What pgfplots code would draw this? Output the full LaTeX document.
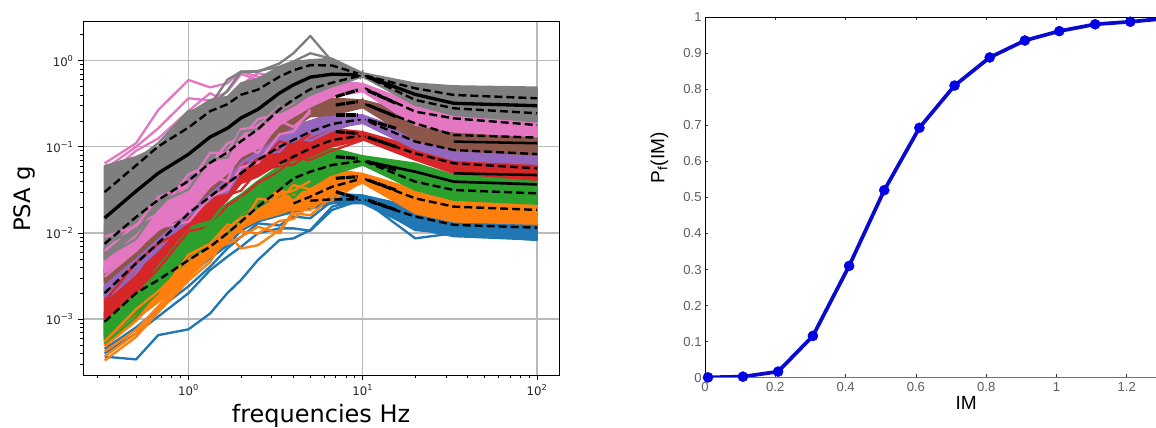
\documentclass[border=0pt]{standalone}
\usepackage{pgfplots}
\pgfplotsset{compat=1.18}
\usepackage{fontspec}
\setmainfont{DejaVu Sans}
\newfontfamily\arialf{Liberation Sans}
\definecolor{cb}{HTML}{1F77B4}
\definecolor{co}{HTML}{FF7F0E}
\definecolor{cg}{HTML}{2CA02C}
\definecolor{cr}{HTML}{D62728}
\definecolor{cu}{HTML}{9467BD}
\definecolor{cn}{HTML}{8C564B}
\definecolor{cp}{HTML}{E377C2}
\definecolor{ca}{HTML}{7F7F7F}
\definecolor{mblue}{HTML}{0A0ACF}
\definecolor{mtick}{HTML}{404040}
\pgfplotsset{
  band/.style={fill=#1,draw=#1,line width=1.3pt,line join=round,forget plot,mark=none},
  ln/.style={#1,line width=1.75pt,line join=round,forget plot,mark=none},
  med/.style={black,line width=2.5pt,forget plot,mark=none},
  dsh/.style={black,line width=1.8pt,dash pattern=on 6pt off 3pt,forget plot,mark=none},
  thk/.style={black,line width=2.4pt,dash pattern=on 7pt off 0.8pt,forget plot,mark=none},
  st/.style={#1,mark=star,mark size=3.8pt,only marks,mark options={line width=1.3pt,#1},forget plot},
}
\begin{document}
\begin{tikzpicture}[x=1pt,y=1pt]
\useasboundingbox (0,0) rectangle (867,321);
\begin{axis}[
  at={(62.25pt,39.75pt)},anchor=south west,scale only axis,width=357pt,height=265.1pt,
  xmode=log,ymode=log,xmin=0.248,xmax=133.7,ymin=0.000224,ymax=2.85,
  xtick={0.1,1,10,100,1000},xticklabels={,10\textsuperscript{0},10\textsuperscript{1},10\textsuperscript{2},},
  ytick={0.0001,0.001,0.01,0.1,1,10},yticklabels={,10\textsuperscript{−3},10\textsuperscript{−2},10\textsuperscript{−1},10\textsuperscript{0},},
  tick align=outside,xtick pos=bottom,ytick pos=left,
  grid=major,major grid style={color=black!27,line width=0.95pt},
  major tick length=3.5pt,minor tick length=2pt,
  tick style={black,line width=0.5pt},
  axis line style={black,line width=0.7pt},
  ticklabel style={font=\fontsize{8.8}{10}\selectfont,text=black!85},
  xlabel={frequencies Hz},ylabel={PSA g},
  xlabel style={font=\fontsize{18}{20}\selectfont,at={(axis description cs:0.5,-0.133)},anchor=base},
  ylabel style={font=\fontsize{17}{19}\selectfont,at={(axis description cs:-0.124,0.498)},anchor=center},
]
% BLUE
\addplot[band=cb] coordinates {(.33,.00063)(.5,.001)(.67,.00158)(1,.00316)(1.33,.005)(1.67,.0071)(2,.0105)(2.5,.0135)(3.33,.0158)(4,.0174)(5,.019)(6.67,.0219)(10,.022)(20,.0112)(33.3,.0091)(100,.0083)
 (100,.0132)(33.3,.0166)(20,.02)(10,.0274)(6.67,.029)(5,.028)(4,.027)(3.33,.025)(2.5,.022)(2,.018)(1.67,.0135)(1.33,.009)(1,.005)(.67,.0025)(.5,.0016)(.33,.001)(.33,.00063)};
\addplot[ln=cb] coordinates {(.33,.000366)(.5,.00034)(.67,.00065)(1,.00076)(1.33,.00116)(1.67,.002)(2,.00284)(2.5,.00484)(3.33,.00828)(4,.00865)(5,.0108)(6.67,.0202)(10,.0245)(20,.00865)(33.3,.0099)(100,.00828)};
\addplot[ln=cb] coordinates {(.33,.0004)(.5,.00068)(.67,.00107)(1,.002)(1.33,.0037)(1.67,.0053)(2,.0069)(2.5,.0099)(3.33,.0113)(4,.0113)(5,.0106)(6.67,.0185)(10,.0245)(20,.0108)(33.3,.0099)(100,.009)};
\addplot[ln=cb] coordinates {(.33,.00045)(.5,.0008)(.67,.0013)(1,.0024)(1.33,.00405)(1.67,.0066)(2,.009)(2.5,.0129)(3.33,.0122)(4,.0155)(5,.0148)(6.67,.0235)(10,.0245)(20,.0125)(33.3,.0105)(100,.0095)};
% ORANGE
\addplot[band=co] coordinates {(.33,.0005)(.5,.001)(.67,.00158)(1,.003)(1.33,.0052)(1.67,.0079)(2,.0112)(2.5,.0141)(3.33,.0166)(4,.019)(5,.02)(6.67,.0282)(10,.038)(20,.0169)(33.3,.0135)(100,.0127)
 (100,.0245)(33.3,.026)(20,.032)(10,.0488)(6.67,.055)(5,.05)(4,.042)(3.33,.036)(2.5,.028)(2,.02)(1.67,.015)(1.33,.01)(1,.0065)(.67,.0028)(.5,.0016)(.33,.001)(.33,.0005)};
\addplot[ln=co] coordinates {(.33,.00037)(.5,.00068)(.67,.00127)(1,.0031)(1.33,.0058)(1.67,.0099)(2,.0066)(2.5,.0072)(3.33,.0108)(4,.0169)(5,.0161)(6.67,.0264)(10,.0431)(20,.018)(33.3,.0145)(100,.013)};
\addplot[ln=co] coordinates {(.33,.00042)(.5,.00075)(.67,.0014)(1,.0034)(1.33,.0062)(1.67,.0075)(2,.009)(2.5,.0118)(3.33,.0099)(4,.0185)(5,.0185)(6.67,.03)(10,.045)(20,.03)(33.3,.024)(100,.0225)};
\addplot[ln=co] coordinates {(.33,.00033)(.5,.00062)(.67,.0012)(1,.0028)(1.33,.0046)(1.67,.0092)(2,.0105)(2.5,.0098)(3.33,.0138)(4,.0145)(5,.0215)(6.67,.024)(10,.04)};
% GREEN
\addplot[band=cg] coordinates {(.33,.00057)(.5,.00116)(.67,.002)(1,.0053)(1.33,.0083)(1.67,.0118)(2,.0169)(2.5,.022)(3.33,.0344)(4,.0288)(5,.0344)(6.67,.0537)(10,.0616)(20,.0315)(33.3,.0241)(100,.0217)
 (100,.0431)(33.3,.047)(20,.0643)(10,.0783)(6.67,.0959)(5,.08)(4,.07)(3.33,.06)(2.5,.04)(2,.028)(1.67,.022)(1.33,.016)(1,.011)(.67,.0042)(.5,.0026)(.33,.0012)(.33,.00057)};
\addplot[ln=cg] coordinates {(.33,.00052)(.5,.00105)(.67,.0022)(1,.0046)(1.33,.0078)(1.67,.0098)(2,.0145)(2.5,.02)(3.33,.027)(4,.03)(5,.033)(6.67,.05)(10,.069)};
\addplot[ln=cg] coordinates {(.33,.00075)(.5,.00125)(.67,.0024)(1,.0062)(1.33,.0075)(1.67,.0135)(2,.0155)(2.5,.0205)(3.33,.038)(4,.0255)(5,.04)(6.67,.048)(10,.062)};
\addplot[ln=co] coordinates {(.33,.00055)(.5,.0013)(.67,.0021)(1,.0045)(1.33,.0068)(1.67,.011)(2,.015)(2.5,.017)(3.33,.028)(4,.031)(5,.04)};
\addplot[ln=co] coordinates {(.33,.00048)(.5,.00095)(.67,.0018)(1,.0056)(1.33,.0075)(1.67,.0125)(2,.0118)(2.5,.025)(3.33,.024)(4,.036)(5,.032)(6.67,.045)};
% RED
\addplot[band=cr] coordinates {(.33,.001)(.5,.002)(.67,.0044)(1,.0118)(1.33,.0155)(1.67,.0241)(2,.0377)(2.5,.045)(3.33,.0643)(4,.0703)(5,.0767)(6.67,.1005)(10,.121)(20,.0703)(33.3,.0492)(100,.0411)
 (100,.0767)(33.3,.0767)(20,.1005)(10,.149)(6.67,.164)(5,.135)(4,.115)(3.33,.1)(2.5,.08)(2,.06)(1.67,.05)(1.33,.035)(1,.02)(.67,.009)(.5,.005)(.33,.0024)(.33,.001)};
\addplot[ln=cr] coordinates {(.33,.0011)(.5,.0021)(.67,.0038)(1,.0105)(1.33,.0118)(1.67,.021)(2,.026)(2.5,.038)(3.33,.052)(4,.075)(5,.07)(6.67,.09)(10,.12)};
\addplot[ln=cr] coordinates {(.33,.0015)(.5,.0031)(.67,.0062)(1,.0125)(1.33,.0145)(1.67,.0275)(2,.031)(2.5,.0525)(3.33,.06)(4,.062)(5,.084)(6.67,.11)(10,.13)};
\addplot[ln=cg] coordinates {(.33,.0009)(.5,.0019)(.67,.0033)(1,.0085)(1.33,.012)(1.67,.0185)(2,.025)(2.5,.031)(3.33,.05)(4,.055)(5,.066)(6.67,.085)};
% PURPLE
\addplot[band=cu] coordinates {(.33,.0018)(.5,.0037)(.67,.0063)(1,.0155)(1.33,.0241)(1.67,.0344)(2,.0643)(2.5,.0767)(3.33,.1005)(4,.115)(5,.131)(6.67,.164)(10,.188)(20,.0942)(33.3,.0703)(100,.063)
 (100,.1005)(33.3,.11)(20,.143)(10,.233)(6.67,.245)(5,.2)(4,.18)(3.33,.16)(2.5,.11)(2,.09)(1.67,.065)(1.33,.045)(1,.03)(.67,.012)(.5,.008)(.33,.004)(.33,.0018)};
\addplot[ln=cu] coordinates {(.33,.00165)(.5,.0034)(.67,.0075)(1,.0135)(1.33,.0275)(1.67,.0295)(2,.052)(2.5,.082)(3.33,.088)(4,.128)(5,.118)(6.67,.155)(10,.2)};
\addplot[ln=cr] coordinates {(.33,.0016)(.5,.0045)(.67,.0075)(1,.0115)(1.33,.022)(1.67,.038)(2,.05)(2.5,.062)(3.33,.115)(4,.105)(5,.14)};
% BROWN
\addplot[band=cn] coordinates {(.33,.0026)(.5,.0053)(.67,.009)(1,.018)(1.33,.03)(1.67,.045)(2,.07)(2.5,.09)(3.33,.143)(4,.171)(5,.224)(6.67,.234)(10,.286)(20,.12)(33.3,.0918)(100,.0803)
 (100,.164)(33.3,.179)(20,.245)(10,.348)(6.67,.366)(5,.32)(4,.27)(3.33,.22)(2.5,.16)(2,.12)(1.67,.09)(1.33,.06)(1,.04)(.67,.02)(.5,.012)(.33,.0065)(.33,.0026)};
\addplot[ln=cn] coordinates {(.33,.06)(.5,.05)(.67,.09)(1,.26)(1.33,.22)(1.67,.3)(2,.25)};
% PINK
\addplot[band=cp] coordinates {(.33,.0034)(.5,.0063)(.67,.0108)(1,.0169)(1.33,.0344)(1.67,.0492)(2,.0767)(2.5,.0959)(3.33,.179)(4,.224)(5,.292)(6.67,.382)(10,.439)(20,.179)(33.3,.15)(100,.131)
 (100,.22)(33.3,.25)(20,.32)(10,.54)(6.67,.597)(5,.48)(4,.4)(3.33,.32)(2.5,.24)(2,.17)(1.67,.13)(1.33,.09)(1,.06)(.67,.03)(.5,.02)(.33,.012)(.33,.0034)};
\addplot[ln=cp] coordinates {(.33,.0643)(.5,.11)(.67,.267)(1,.597)(1.33,.49)(1.67,.546)(2,.746)(2.5,.653)(3.33,.48)(4,.45)};
\addplot[ln=cp] coordinates {(.33,.055)(.5,.1)(.67,.164)(1,.366)(1.33,.345)(1.67,.436)(2,.7)(2.5,.6)(3.33,.5)};
\addplot[ln=cp] coordinates {(.33,.045)(.5,.09)(.67,.125)(1,.26)(1.33,.42)(1.67,.33)(2,.52)(2.5,.72)(3.33,.62)};
\addplot[ln=cp] coordinates {(.33,.0031)(.5,.0062)(.67,.0115)(1,.0135)(1.33,.026)(1.67,.032)(2,.058)(2.5,.065)(3.33,.14)(4,.15)(5,.27)};
\addplot[ln=cp] coordinates {(.33,.006)(.5,.0075)(.67,.018)(1,.022)(1.33,.045)(1.67,.04)(2,.1)(2.5,.085)(3.33,.2)(4,.17)(5,.25)};
% GRAY
\addplot[band=ca] coordinates {(.33,.0049)(.5,.01)(.67,.019)(1,.0447)(1.33,.0708)(1.67,.1)(2,.141)(2.5,.19)(3.33,.269)(4,.331)(5,.398)(6.67,.501)(10,.65)(20,.305)(33.3,.234)(100,.196)
 (100,.491)(33.3,.508)(20,.546)(10,.72)(6.67,1.06)(5,1.02)(4,.975)(3.33,.853)(2.5,.62)(2,.55)(1.67,.382)(1.33,.35)(1,.245)(.67,.1)(.5,.0767)(.33,.0603)(.33,.0049)};
\addplot[ln=ca] coordinates {(.33,.055)(.5,.07)(.67,.11)(1,.26)(1.33,.28)(1.67,.45)(2,.74)(2.5,.76)(3.33,.85)(4,.98)(5,1.22)(6.67,1.05)(10,.68)};
\addplot[ln=ca] coordinates {(1,.2)(1.33,.3)(1.67,.6)(2,.746)(2.5,.746)(3.33,.93)(4,1.22)(5,1.94)(6.67,.98)(10,.68)};
\addplot[ln=ca] coordinates {(.33,.0052)(.5,.0085)(.67,.02)(1,.04)(1.33,.08)(1.67,.09)(2,.13)(2.5,.2)(3.33,.25)(4,.3)(5,.41)};
\addplot[ln=cp] coordinates {(.33,.0062)(.5,.0125)(.67,.0165)(1,.048)(1.33,.062)(1.67,.11)(2,.125)(2.5,.21)(3.33,.24)};
\addplot[ln=cp] coordinates {(.33,.009)(.5,.012)(.67,.026)(1,.036)(1.33,.085)(1.67,.085)(2,.16)(2.5,.17)(3.33,.3)};
\addplot[ln=ca] coordinates {(.33,.0075)(.5,.0105)(.67,.022)(1,.032)(1.33,.072)(1.67,.075)(2,.15)(2.5,.16)(3.33,.29)};
% BLACK gray group
\addplot[med] coordinates {(.33,.0149)(.5,.0305)(.67,.0494)(1,.082)(1.33,.13)(1.67,.164)(2,.216)(2.5,.272)(3.33,.421)(4,.524)(5,.644)(6.67,.698)(10,.682)(20,.406)(33.3,.32)(100,.30)};
\addplot[dsh] coordinates {(.33,.0298)(.5,.0608)(.67,.101)(1,.1675)(1.33,.259)(1.67,.312)(2,.402)(2.5,.461)(3.33,.652)(4,.774)(5,.889)(6.67,.879)(10,.682)(20,.478)(33.3,.40)(100,.366)};
\addplot[dsh] coordinates {(.33,.00748)(.5,.0153)(.67,.0242)(1,.0402)(1.33,.0652)(1.67,.0859)(2,.116)(2.5,.16)(3.33,.272)(4,.354)(5,.467)(6.67,.555)(10,.682)(20,.35)(33.3,.28)(100,.245)};
% BLACK dashed lines of other groups
\addplot[dsh] coordinates {(.33,.0020)(.5,.00444)(.67,.0076)(1,.0169)(1.33,.0264)(1.67,.0377)(2,.0492)(2.5,.0703)(3.33,.1)(4,.12)(5,.15)(6.67,.184)(10,.21)(20,.115)(33.3,.0918)(100,.0824)};
\addplot[dsh] coordinates {(.33,.00093)(.5,.0020)(.67,.00284)(1,.00484)(1.33,.00692)(1.67,.0099)(2,.0135)(2.5,.0202)(3.33,.0316)(4,.043)(5,.0514)(6.67,.0615)(10,.069)(20,.0394)(33.3,.0315)(100,.0288)};
\addplot[dsh] coordinates {(3.33,.0643)(4,.0767)(5,.0959)(6.67,.12)(10,.135)(20,.0839)(33.3,.0643)(100,.0562)};
\addplot[dsh] coordinates {(4,.022)(5,.0264)(6.67,.0344)(10,.0431)(20,.0252)(33.3,.0202)(100,.0185)};
\addplot[dsh] coordinates {(5,.0237)(6.67,.0245)(10,.0245)(20,.0155)(33.3,.0124)(100,.0115)};
\addplot[dsh] coordinates {(10,.49)(20,.256)(33.3,.214)(100,.179)};
\addplot[dsh] coordinates {(10,.32)(20,.187)(33.3,.137)(100,.128)};
\addplot[med,line width=1.9pt] coordinates {(33.3,.115)(100,.11)};
\addplot[med,line width=1.9pt] coordinates {(33.3,.0492)(100,.047)};
\addplot[med,line width=2pt] coordinates {(10,.069)(20,.0514)(33.3,.0394)(100,.0366)};
% Thick black pieces beside the peak
\addplot[thk] coordinates {(10.7,.641)(15.5,.491)};
\addplot[thk] coordinates {(10.7,.449)(15.5,.32)};
\addplot[thk] coordinates {(10.7,.306)(15.5,.224)};
\addplot[thk] coordinates {(10.7,.205)(15.5,.164)};
\addplot[thk] coordinates {(10.7,.129)(15.5,.1005)};
\addplot[thk] coordinates {(10.7,.0671)(15.5,.0537)};
\addplot[thk] coordinates {(10.7,.0411)(15.5,.0315)};
\addplot[thk] coordinates {(10.7,.0241)(15.5,.0185)};
\addplot[thk] coordinates {(7,.382)(9.36,.457)};
\addplot[thk] coordinates {(7,.306)(9.36,.334)};
\addplot[thk] coordinates {(7,.234)(9.36,.234)};
\addplot[thk] coordinates {(7,.15)(9.36,.143)};
\addplot[thk] coordinates {(7,.0767)(9.36,.0734)};
\addplot[thk] coordinates {(7,.0431)(9.36,.045)};
\addplot[thk] coordinates {(7,.0301)(9.36,.0252)};
% Stars at 10 Hz
\addplot[st=cb] coordinates {(10,.0245)};
\addplot[st=co] coordinates {(10,.0431)};
\addplot[st=cg] coordinates {(10,.069)};
\addplot[st=cr] coordinates {(10,.135)};
\addplot[st=cu] coordinates {(10,.21)};
\addplot[st=cn] coordinates {(10,.32)};
\addplot[st=cp] coordinates {(10,.49)};
\addplot[st=ca] coordinates {(10,.682)};
\end{axis}
\begin{axis}[
  at={(528.75pt,37.7pt)},anchor=south west,scale only axis,width=341.25pt,height=270.5pt,
  xmin=0,xmax=1.2945,ymin=0,ymax=1,
  xtick={0,0.2,0.4,0.6,0.8,1,1.2},ytick={0,0.1,...,1},
  xticklabels={0,0.2,0.4,0.6,0.8,1,1.2},
  yticklabels={0,0.1,0.2,0.3,0.4,0.5,0.6,0.7,0.8,0.9,1},
  tick align=inside,major tick length=2.5pt,
  tick style={black!80,line width=0.5pt},
  axis line style={black,line width=0.7pt},
  ticklabel style={font=\arialf\fontsize{9.8}{11}\selectfont,text=mtick!85},
  xticklabel style={yshift=0pt},yticklabel style={xshift=1pt},
  ylabel={P\textsubscript{f}(IM)},xlabel={IM},
  xlabel style={font=\arialf\fontsize{14.3}{15}\selectfont,at={(axis description cs:0.574,-0.07)},anchor=center},
  ylabel style={font=\arialf\fontsize{14.3}{15}\selectfont,at={(axis description cs:-0.10,0.61)},anchor=center},
  clip=true,
]
\addplot[mblue,line width=2.8pt,mark=*,mark size=3.8pt,mark options={fill=blue!90!black,draw=blue!90!black,line width=0.3pt}] coordinates {
 (.0085,.001)(.108,.003)(.208,.017)(.307,.116)(.41,.31)(.51,.52)(.61,.693)(.71,.81)(.81,.888)(.91,.935)(1.008,.961)(1.11,.98)(1.21,.987)(1.31,.996)};
\draw[black!55,line width=1.1pt] (axis cs:0,0) -- (axis cs:1.2945,0);
\end{axis}
\end{tikzpicture}
\end{document}
